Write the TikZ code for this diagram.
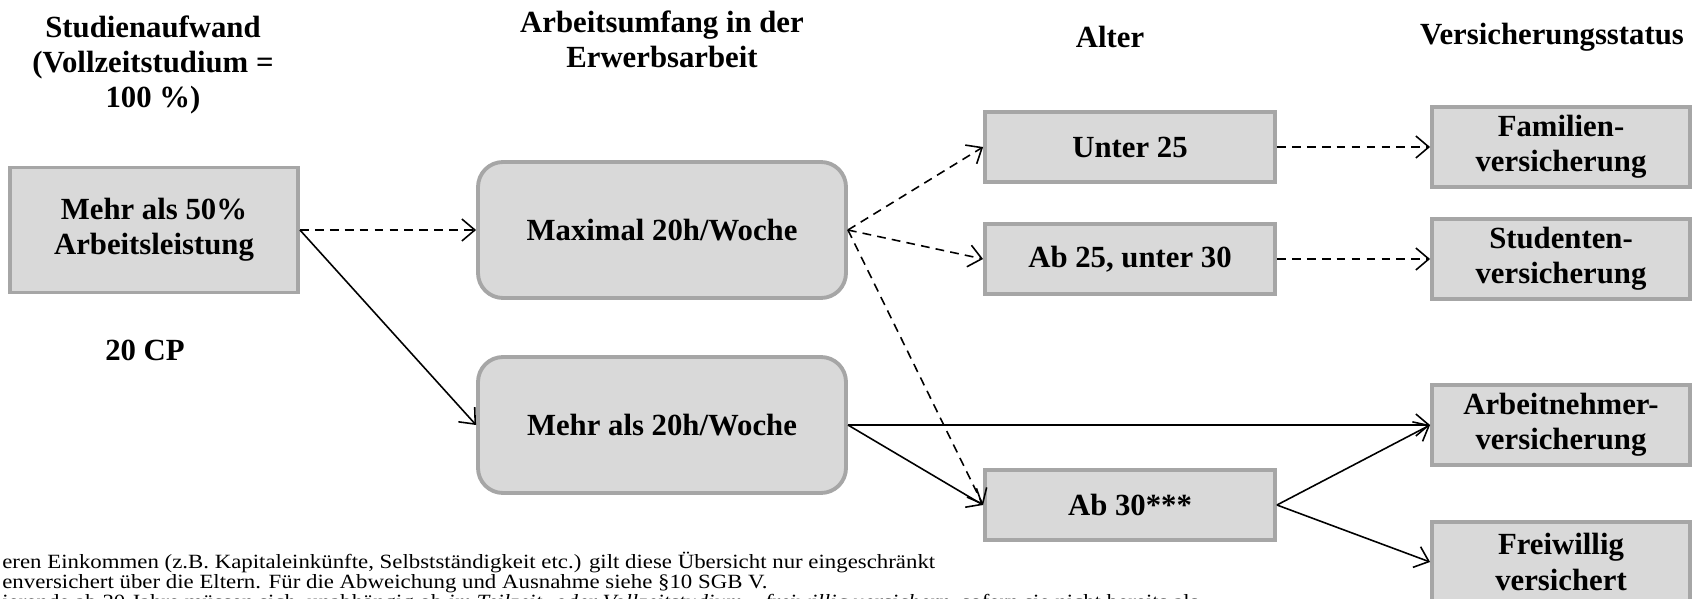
\documentclass[tikz,border=0pt]{standalone}
\usepackage{fontspec}
\setmainfont{Liberation Serif}
\newfontfamily\notefont[FakeStretch=1.13]{Liberation Serif}
\usetikzlibrary{arrows.meta, positioning}
\definecolor{boxfill}{HTML}{D9D9D9}
\definecolor{boxline}{HTML}{A6A6A6}

\begin{document}
\begin{tikzpicture}[
    >={Straight Barb[length=2.6mm, width=4.4mm]},
    box/.style={rectangle, draw=boxline, fill=boxfill, line width=2.2pt, align=center, inner sep=2pt, font=\bfseries\fontsize{17.5}{20}\selectfont},
    roundbox/.style={box, rounded corners=0.5cm, minimum width=7.36cm, minimum height=2.72cm},
    agebox/.style={box, minimum width=5.8cm, minimum height=1.4cm},
    statusbox/.style={box, minimum width=5.16cm, minimum height=1.6cm},
    head/.style={align=center, font=\bfseries\fontsize{17.5}{20}\selectfont},
    note/.style={anchor=base west, inner sep=0pt, font=\notefont\fontsize{11.5}{13}\selectfont},
    dasharrow/.style={->, line width=0.9pt, dash pattern=on 5pt off 3.5pt},
    solidarrow/.style={->, line width=0.9pt}
]
\useasboundingbox (0,0) rectangle (34.06,-11.98);
\clip (0,0) rectangle (34.06,-11.98);

% Headings
\node[head] (H1) at (3.06,-1.30) {Studienaufwand\\(Vollzeitstudium =\\100 \%)};
\node[head] (H2) at (13.24,-0.78) {Arbeitsumfang in der\\Erwerbsarbeit};
\node[head] (H3) at (22.2,-0.74) {Alter};
\node[head] (H4) at (31.04,-0.74) {Versicherungsstatus};

% Boxes
\node[box, minimum width=5.76cm, minimum height=2.5cm] (A50) at (3.08,-4.6) {Mehr als 50\%\\Arbeitsleistung};
\node[head] (CP) at (2.9,-7.0) {20 CP};
\node[roundbox] (Max) at (13.24,-4.6) {Maximal 20h/Woche};
\node[roundbox] (More) at (13.24,-8.5) {Mehr als 20h/Woche};
\node[agebox] (U25) at (22.6,-2.94) {Unter 25};
\node[agebox] (A25) at (22.6,-5.18) {Ab 25, unter 30};
\node[agebox] (A30) at (22.6,-10.1) {Ab 30***};
\node[statusbox] (Fam) at (31.22,-2.94) {Familien-\\versicherung};
\node[statusbox] (Stu) at (31.22,-5.18) {Studenten-\\versicherung};
\node[statusbox] (Arb) at (31.22,-8.5) {Arbeitnehmer-\\versicherung};
\node[statusbox] (Frei) at (31.22,-11.24) {Freiwillig\\versichert};

% Footnotes
\node[note] (fn1) at (0.04,-11.36) {eren Einkommen (z.B. Kapitaleinkünfte, Selbstständigkeit etc.) gilt diese Übersicht nur eingeschränkt};
\node[note] (fn2) at (0.04,-11.76) {enversichert über die Eltern. Für die Abweichung und Ausnahme siehe §10 SGB V.};
\node[note] (fn3) at (0.04,-12.16) {ierende ab 30 Jahre müssen sich, unabhängig ob \textit{im Teilzeit- oder Vollzeitstudium} – \textit{freiwillig versichern}, sofern sie nicht bereits als};

% Connections
\draw[dasharrow] (A50.east) -- (Max.west);
\draw[solidarrow] (A50.east) -- (More.west);
\draw[dasharrow] (Max.east) -- (U25.west);
\draw[dasharrow] (Max.east) -- (A25.west);
\draw[dasharrow] (Max.east) -- (A30.west);
\draw[solidarrow] (More.east) -- (A30.west);
\draw[solidarrow] (More.east) -- (Arb.west);
\draw[dasharrow] (U25.east) -- (Fam.west);
\draw[dasharrow] (A25.east) -- (Stu.west);
\draw[solidarrow] (A30.east) -- (Arb.west);
\draw[solidarrow] (A30.east) -- (Frei.west);

\end{tikzpicture}
\end{document}
